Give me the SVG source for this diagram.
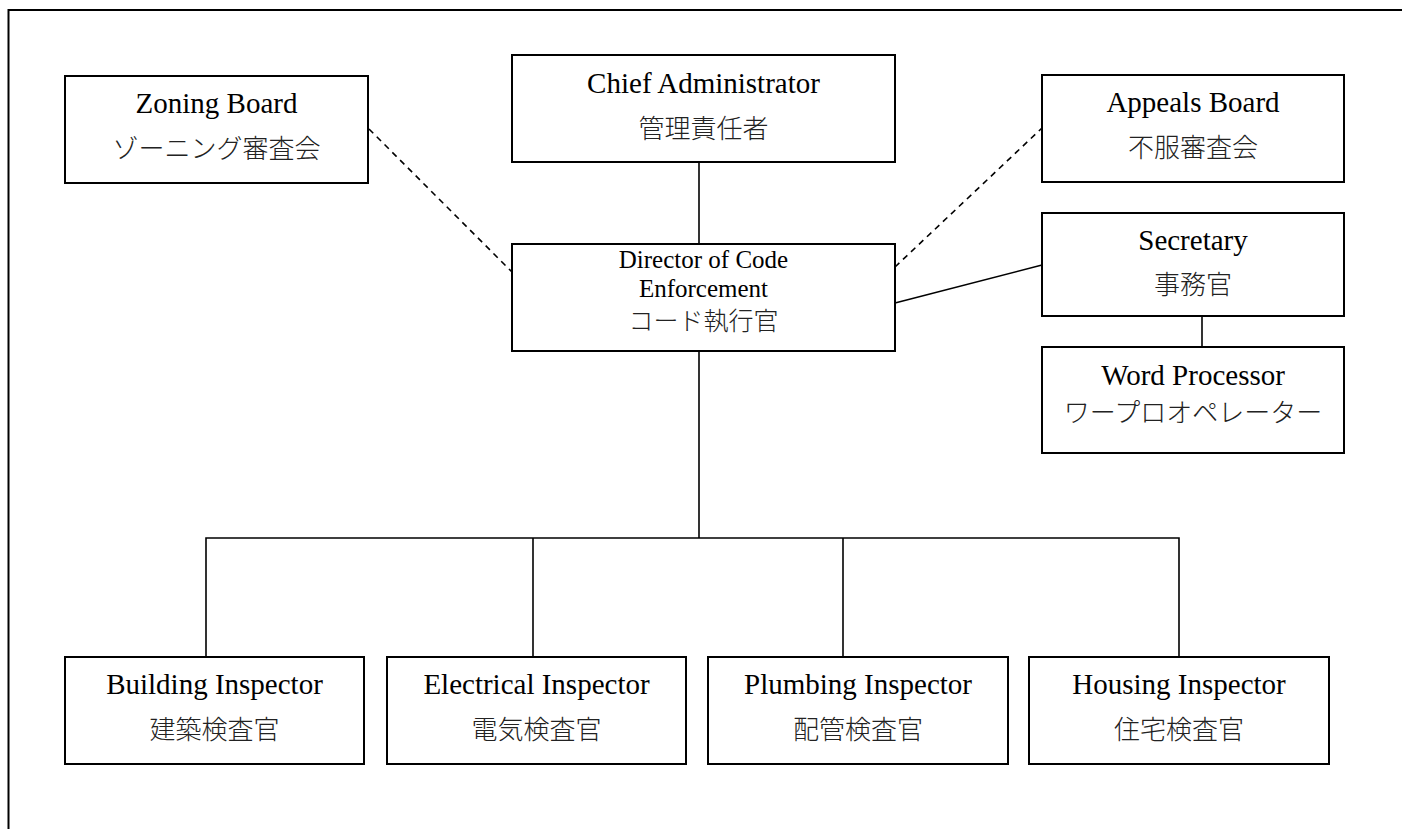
<svg xmlns="http://www.w3.org/2000/svg" width="1402" height="829" viewBox="0 0 1402 829">
  <style>
    .box { fill: #ffffff; stroke: #000000; stroke-width: 2; }
    .link { fill: none; stroke: #000000; stroke-width: 1.6; }
    .dash { fill: none; stroke: #000000; stroke-width: 1.6; stroke-dasharray: 6 5; }
    .frame { fill: none; stroke: #000000; stroke-width: 2; }
    .en { font-family: "Liberation Serif", "Times New Roman", serif; font-size: 29px; fill: #000000; text-anchor: middle; }
    .en-tight { font-size: 25px; }
    .ja { font-family: "Noto Sans CJK JP", "Noto Sans CJK SC", sans-serif; font-size: 26px; font-weight: 300; fill: #222222; text-anchor: middle; }
    .ja-tight { font-size: 25px; }
  </style>

  <!-- page frame: top and left edges -->
  <path class="frame" d="M1402 10 H8.5 V829"/>

  <!-- connectors -->
  <g id="connectors">
    <line class="link" x1="699" y1="162" x2="699" y2="244"/>
    <line class="dash" x1="369" y1="129" x2="512" y2="272"/>
    <line class="dash" x1="895" y1="267" x2="1042" y2="128"/>
    <line class="link" x1="895" y1="303" x2="1042" y2="265"/>
    <line class="link" x1="1202" y1="316" x2="1202" y2="347"/>
    <line class="link" x1="699" y1="351" x2="699" y2="538"/>
    <path class="link" d="M206 657 V538 H1179 V657"/>
    <line class="link" x1="533" y1="538" x2="533" y2="657"/>
    <line class="link" x1="843" y1="538" x2="843" y2="657"/>
  </g>

  <g id="zoning-board">
    <rect class="box" x="65" y="76" width="303" height="107"/>
    <text class="en" x="216.5" y="113">Zoning Board</text>
    <text class="ja" x="216.5" y="158">ゾーニング審査会</text>
  </g>

  <g id="chief-administrator">
    <rect class="box" x="512" y="55" width="383" height="107"/>
    <text class="en" x="703.5" y="93">Chief Administrator</text>
    <text class="ja" x="703.5" y="138">管理責任者</text>
  </g>

  <g id="appeals-board">
    <rect class="box" x="1042" y="75" width="302" height="107"/>
    <text class="en" x="1193" y="112">Appeals Board</text>
    <text class="ja" x="1193" y="157">不服審査会</text>
  </g>

  <g id="director">
    <rect class="box" x="512" y="244" width="383" height="107"/>
    <text class="en en-tight" x="703.5" y="268">Director of Code</text>
    <text class="en en-tight" x="703.5" y="297">Enforcement</text>
    <text class="ja ja-tight" x="703.5" y="330">コード執行官</text>
  </g>

  <g id="secretary">
    <rect class="box" x="1042" y="213" width="302" height="103"/>
    <text class="en" x="1193" y="250">Secretary</text>
    <text class="ja" x="1193" y="294">事務官</text>
  </g>

  <g id="word-processor">
    <rect class="box" x="1042" y="347" width="302" height="106"/>
    <text class="en" x="1193" y="385">Word Processor</text>
    <text class="ja" x="1193" y="422">ワープロオペレーター</text>
  </g>

  <g id="building-inspector">
    <rect class="box" x="65" y="657" width="299" height="107"/>
    <text class="en" x="214.5" y="694">Building Inspector</text>
    <text class="ja" x="214.5" y="739">建築検査官</text>
  </g>

  <g id="electrical-inspector">
    <rect class="box" x="387" y="657" width="299" height="107"/>
    <text class="en" x="536.5" y="694">Electrical Inspector</text>
    <text class="ja" x="536.5" y="739">電気検査官</text>
  </g>

  <g id="plumbing-inspector">
    <rect class="box" x="708" y="657" width="300" height="107"/>
    <text class="en" x="858" y="694">Plumbing Inspector</text>
    <text class="ja" x="858" y="739">配管検査官</text>
  </g>

  <g id="housing-inspector">
    <rect class="box" x="1029" y="657" width="300" height="107"/>
    <text class="en" x="1179" y="694">Housing Inspector</text>
    <text class="ja" x="1179" y="739">住宅検査官</text>
  </g>
</svg>
